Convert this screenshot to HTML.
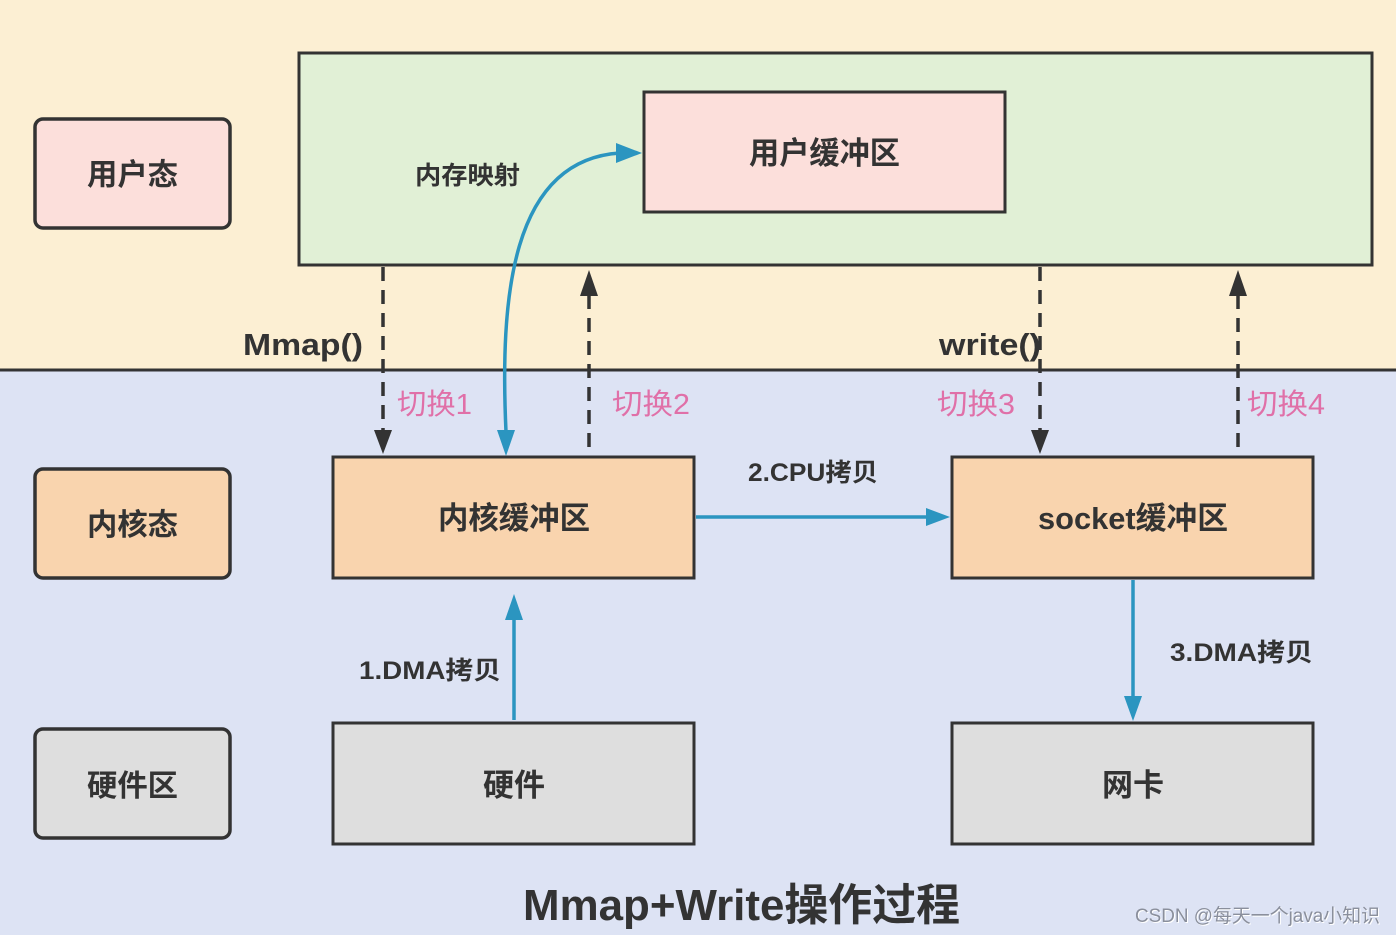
<!DOCTYPE html>
<html><head><meta charset="utf-8"><style>
html,body{margin:0;padding:0;width:1396px;height:935px;overflow:hidden}
body{font-family:"Liberation Sans","Noto Sans CJK SC",sans-serif}
</style></head><body>
<svg width="1396" height="935" xmlns="http://www.w3.org/2000/svg" font-family="Liberation Sans, Noto Sans CJK SC, sans-serif">
<rect x="0" y="0" width="1396" height="370" fill="#fcefd3"/>
<rect x="0" y="370" width="1396" height="565" fill="#dde3f4"/>
<line x1="0" y1="370" x2="1396" y2="370" stroke="#333" stroke-width="3"/>

<rect x="299" y="53" width="1073" height="212" fill="#e1f0d6" stroke="#333" stroke-width="3"/>
<rect x="644" y="92" width="361" height="120" fill="#fcdfdb" stroke="#333" stroke-width="3"/>
<text x="749" y="164" font-size="31" font-weight="bold" fill="#333" textLength="151" lengthAdjust="spacingAndGlyphs">用户缓冲区</text>
<text x="415" y="184" font-size="25" font-weight="bold" fill="#333" textLength="105" lengthAdjust="spacingAndGlyphs">内存映射</text>

<rect x="35" y="119" width="195" height="109" rx="8" fill="#fcdfdb" stroke="#333" stroke-width="3.5"/>
<text x="87" y="185" font-size="30" font-weight="bold" fill="#333" textLength="91" lengthAdjust="spacingAndGlyphs">用户态</text>
<rect x="35" y="469" width="195" height="109" rx="8" fill="#f9d4ae" stroke="#333" stroke-width="3.5"/>
<text x="87" y="535" font-size="30" font-weight="bold" fill="#333" textLength="91" lengthAdjust="spacingAndGlyphs">内核态</text>
<rect x="35" y="729" width="195" height="109" rx="8" fill="#dedede" stroke="#333" stroke-width="3.5"/>
<text x="87" y="796" font-size="30" font-weight="bold" fill="#333" textLength="91" lengthAdjust="spacingAndGlyphs">硬件区</text>

<rect x="333" y="457" width="361" height="121" fill="#f9d4ae" stroke="#333" stroke-width="3"/>
<text x="438" y="529" font-size="31" font-weight="bold" fill="#333" textLength="152" lengthAdjust="spacingAndGlyphs">内核缓冲区</text>
<rect x="952" y="457" width="361" height="121" fill="#f9d4ae" stroke="#333" stroke-width="3"/>
<text x="1038" y="529" font-size="31" font-weight="bold" fill="#333" textLength="190" lengthAdjust="spacingAndGlyphs">socket缓冲区</text>
<rect x="333" y="723" width="361" height="121" fill="#dedede" stroke="#333" stroke-width="3"/>
<text x="514" y="796" font-size="31" font-weight="bold" fill="#333" text-anchor="middle">硬件</text>
<rect x="952" y="723" width="361" height="121" fill="#dedede" stroke="#333" stroke-width="3"/>
<text x="1133" y="796" font-size="31" font-weight="bold" fill="#333" text-anchor="middle">网卡</text>

<g stroke="#333" stroke-width="3.5" stroke-dasharray="14,9" fill="none">
<line x1="383" y1="267" x2="383" y2="432"/>
<line x1="589" y1="295" x2="589" y2="455"/>
<line x1="1040" y1="267" x2="1040" y2="432"/>
<line x1="1238" y1="295" x2="1238" y2="455"/>
</g>
<g fill="#333">
<polygon points="374,430 392,430 383,454"/>
<polygon points="580,296 598,296 589,270"/>
<polygon points="1031,430 1049,430 1040,454"/>
<polygon points="1229,296 1247,296 1238,270"/>
</g>

<g stroke="#2b95c0" stroke-width="3.5" fill="none">
<path d="M506,432 C500,300 510,160 620,153"/>
<line x1="696" y1="517" x2="928" y2="517"/>
<line x1="514" y1="720" x2="514" y2="618"/>
<line x1="1133" y1="580" x2="1133" y2="698"/>
</g>
<g fill="#2b95c0">
<polygon points="497,430 515,430 506,456"/>
<polygon points="616,143 616,163 642,153"/>
<polygon points="926,508 926,526 950,517"/>
<polygon points="505,620 523,620 514,594"/>
<polygon points="1124,696 1142,696 1133,721"/>
</g>

<text x="243" y="355" font-size="31" font-weight="bold" fill="#333" textLength="120" lengthAdjust="spacingAndGlyphs">Mmap()</text>
<text x="939" y="355" font-size="31" font-weight="bold" fill="#333" textLength="102" lengthAdjust="spacingAndGlyphs">write()</text>
<g font-size="29" fill="#e070a8">
<text x="397" y="414" textLength="75" lengthAdjust="spacingAndGlyphs">切换1</text>
<text x="612" y="414" textLength="78" lengthAdjust="spacingAndGlyphs">切换2</text>
<text x="937" y="414" textLength="78" lengthAdjust="spacingAndGlyphs">切换3</text>
<text x="1247" y="414" textLength="78" lengthAdjust="spacingAndGlyphs">切换4</text>
</g>
<text x="748" y="481" font-size="25" font-weight="bold" fill="#333" textLength="130" lengthAdjust="spacingAndGlyphs">2.CPU拷贝</text>
<text x="359" y="679" font-size="25" font-weight="bold" fill="#333" textLength="142" lengthAdjust="spacingAndGlyphs">1.DMA拷贝</text>
<text x="1170" y="661" font-size="25" font-weight="bold" fill="#333" textLength="143" lengthAdjust="spacingAndGlyphs">3.DMA拷贝</text>
<text x="523" y="920" font-size="44" font-weight="bold" fill="#333" textLength="437" lengthAdjust="spacingAndGlyphs">Mmap+Write操作过程</text>
<text x="1135" y="922" font-size="19" fill="#ffffff" textLength="245" lengthAdjust="spacingAndGlyphs" transform="translate(1,1)">CSDN @每天一个java小知识</text>
<text x="1135" y="922" font-size="19" fill="#8a8f9c" textLength="245" lengthAdjust="spacingAndGlyphs">CSDN @每天一个java小知识</text>
</svg>
</body></html>
